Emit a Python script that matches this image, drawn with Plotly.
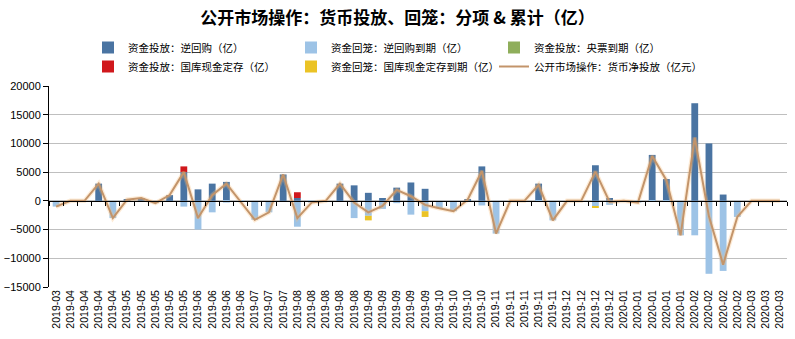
import plotly.graph_objects as go

# Weekly open-market operations, 100 million yuan (亿)
labels = [
    "2019-03",
    "2019-04", "2019-04", "2019-04", "2019-04",
    "2019-05", "2019-05", "2019-05", "2019-05", "2019-05",
    "2019-06", "2019-06", "2019-06", "2019-06",
    "2019-07", "2019-07", "2019-07",
    "2019-08", "2019-08", "2019-08", "2019-08", "2019-08",
    "2019-09", "2019-09", "2019-09", "2019-09", "2019-09",
    "2019-10", "2019-10", "2019-10", "2019-10",
    "2019-11", "2019-11", "2019-11", "2019-11", "2019-11",
    "2019-12", "2019-12", "2019-12", "2019-12",
    "2020-01", "2020-01", "2020-01", "2020-01", "2020-01",
    "2020-02", "2020-02", "2020-02", "2020-02",
    "2020-03", "2020-03", "2020-03",
]

reverse_repo = [
    0, 0, 0, 3000, 0, 200, 500, 0, 1000, 5000,
    2000, 3000, 3300, 0, 0, 0, 4600, 500, 0, 0,
    3000, 2700, 1400, 500, 2300, 3200, 2100, 0, 0, 200,
    6000, 0, 0, 0, 3000, 0, 0, 0, 6200, 500,
    0, 0, 8000, 3800, 0, 17000, 10000, 1100, 0, 0,
    0, 0,
]
reverse_repo_maturity = [
    -1000, 0, 0, 0, -3000, 0, 0, -400, 0, -1000,
    -5000, -2000, -300, -200, -3300, -2000, 0, -4500, -300, 0,
    0, -3000, -2600, -1400, -400, -2400, -1800, -1300, -1800, 0,
    -800, -5700, 0, 0, -200, -3400, 0, 0, -900, -700,
    0, -300, -200, -200, -6000, -6000, -12700, -12200, -2800, 0,
    0, 0,
]
cb_bill_maturity = [
    0, 0, 0, 0, 0, 0, 0, 0, 0, 0,
    0, 0, 0, 0, 0, 0, 0, 0, 0, 0,
    0, 0, 0, 0, 0, 0, 0, 0, 0, 0,
    0, 0, 0, 0, 0, 0, 0, 0, 0, 0,
    0, 0, 0, 0, 0, 0, 0, 0, 0, 0,
    0, 0,
]
treasury_deposit = [
    0, 0, 0, 0, 0, 0, 0, 0, 0, 1000,
    0, 0, 0, 0, 0, 0, 0, 1000, 0, 0,
    0, 0, 0, 0, 0, 0, 0, 0, 0, 0,
    0, 0, 0, 0, 0, 0, 0, 0, 0, 0,
    0, 0, 0, 0, 0, 0, 0, 0, 0, 0,
    0, 0,
]
treasury_deposit_maturity = [
    0, 0, 0, 0, 0, 0, 0, 0, 0, 0,
    0, 0, 0, 0, 0, 0, 0, 0, 0, 0,
    0, 0, -800, 0, 0, 0, -1000, 0, 0, 0,
    0, 0, 0, 0, 0, 0, 0, 0, -200, 0,
    0, 0, 0, 0, 0, 0, 0, 0, 0, 0,
    0, 0,
]
net_injection = [
    -1000, 0, 0, 3000, -3000, 200, 500, -400, 1000, 5000,
    -3000, 1000, 3000, -200, -3300, -2000, 4600, -3000, -300, 0,
    3000, -300, -2000, -900, 1900, 800, -700, -1300, -1800, 200,
    5200, -5700, 0, 0, 2800, -3400, 0, 0, 5100, -200,
    0, -300, 7800, 3600, -6000, 11000, -2700, -11100, -2800, 0,
    0, 0,
]

y_range = [-15000, 20000]
x = list(range(len(labels)))

fig = go.Figure()

bar_series = [
    ("资金投放：逆回购（亿）", reverse_repo, "#4A74A2"),
    ("资金回笼：逆回购到期（亿）", reverse_repo_maturity, "#9DC3E6"),
    ("资金投放：央票到期（亿）", cb_bill_maturity, "#8FAE5B"),
    ("资金投放：国库现金定存（亿）", treasury_deposit, "#D0181C"),
    ("资金回笼：国库现金定存到期（亿）", treasury_deposit_maturity, "#EBC325"),
]
for name, vals, color in bar_series:
    fig.add_trace(go.Bar(x=x, y=vals, name=name, marker=dict(color=color, line=dict(width=0))))

# soft halo under the net-injection line
fig.add_trace(go.Scatter(
    x=x, y=net_injection, xaxis="x2", mode="lines", showlegend=False, hoverinfo="skip",
    line=dict(color="rgba(250,190,120,0.3)", width=4.5),
))
fig.add_trace(go.Scatter(
    x=x, y=net_injection, xaxis="x2", mode="lines",
    name="公开市场操作：货币净投放（亿元）",
    line=dict(color="#C3946A", width=2),
))

zero_pos = (0 - y_range[0]) / (y_range[1] - y_range[0])
tick_font = dict(family="Liberation Sans, Arial, sans-serif", size=10.5, color="#000000")

fig.update_layout(
    width=795,
    height=339,
    margin=dict(l=49, r=8, t=86, b=52, autoexpand=False),
    paper_bgcolor="#FFFFFF",
    plot_bgcolor="#FFFFFF",
    barmode="relative",
    bargap=0.52,
    title=dict(
        text="公开市场操作：货币投放、回笼：分项 & 累计（亿）",
        x=0.5, xanchor="center", y=1 - 18 / 339, yanchor="middle",
        font=dict(family="Noto Sans CJK SC", size=17, color="#000000", weight="bold"),
    ),
    legend=dict(
        orientation="h",
        xref="container", yref="container",
        x=88 / 795, xanchor="left",
        y=1 - 33 / 339, yanchor="top",
        entrywidth=158, entrywidthmode="pixels",
        traceorder="normal",
        font=dict(family="Noto Sans CJK SC", size=10.5, color="#000000"),
        bgcolor="rgba(0,0,0,0)",
        itemwidth=30,
    ),
    xaxis=dict(
        range=[-0.5, len(labels) - 0.5],
        tickmode="array", tickvals=x, ticktext=labels,
        tickangle=-90, tickfont=tick_font,
        showline=False, ticks="", showgrid=False, zeroline=False,
    ),
    xaxis2=dict(
        overlaying="x", matches="x", anchor="free", position=zero_pos,
        showline=True, linecolor="#000000", linewidth=1,
        ticks="outside", ticklen=4, tickcolor="#000000", tickwidth=1,
        tickmode="linear", tick0=0.5, dtick=1,
        showticklabels=False, showgrid=False, zeroline=False,
    ),
    yaxis=dict(
        range=y_range, dtick=5000, tickformat="d",
        showgrid=True, gridcolor="#BFBFBF", gridwidth=1,
        showline=True, linecolor="#000000", linewidth=1,
        ticks="outside", ticklen=5, tickcolor="#000000",
        zeroline=False, tickfont=dict(family="Liberation Sans, Arial, sans-serif", size=11, color="#000000"),
    ),
)

fig.write_html("out.html")
